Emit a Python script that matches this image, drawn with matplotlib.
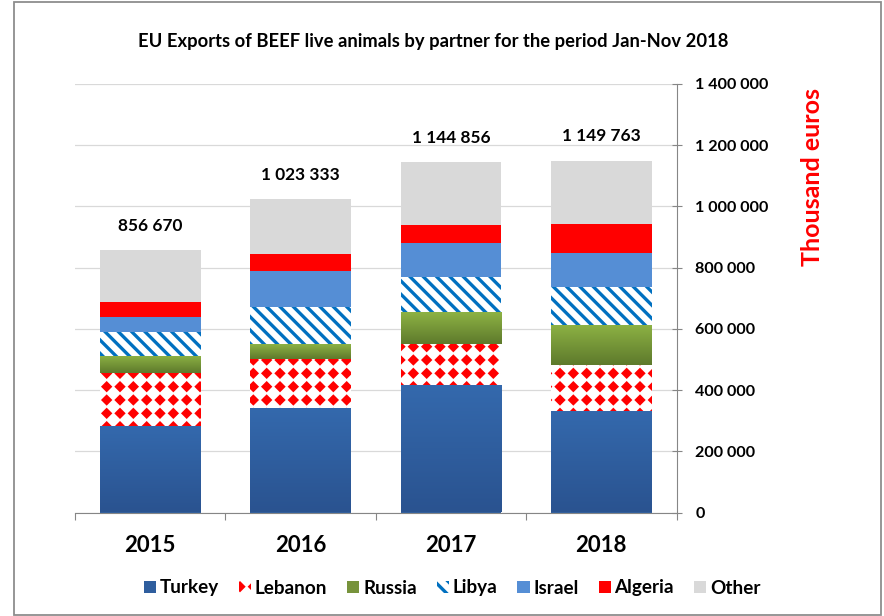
import warnings
warnings.filterwarnings('ignore')
import numpy as np
import matplotlib
matplotlib.use('Agg')
import matplotlib.pyplot as plt
import matplotlib.hatch as mhatch
from matplotlib.path import Path
from matplotlib.patches import Rectangle
from matplotlib.colors import LinearSegmentedColormap
from matplotlib.ticker import FuncFormatter, MultipleLocator

# ---------------- data (thousand euros) ----------------
years = ['2015', '2016', '2017', '2018']
turkey  = [283000, 341000, 417000, 333000]
lebanon = [172000, 160000, 135000, 149000]
russia  = [57000, 49000, 104000, 132000]
libya   = [79000, 123000, 112000, 124000]
israel  = [49000, 115000, 114000, 111000]
algeria = [49000, 58000, 58000, 94000]
other   = [168000, 177000, 205000, 207000]
totals  = [856670, 1023333, 1144856, 1149763]
title = 'EU Exports of BEEF live animals by partner for the period Jan-Nov 2018'
ylabel = 'Thousand euros'

# ---------------- custom diamond-grid hatch ----------------
class DiamondGrid(mhatch.HatchPatternBase):
    def __init__(self, hatch, density):
        self.n = hatch.count('D') * density
        self.num_vertices = 5 * (self.n + 1) ** 2 if self.n else 0

    def set_vertices_and_codes(self, vertices, codes):
        n = self.n
        r = 0.25 / n
        c = np.linspace(0, 1, n + 1)
        cx, cy = np.meshgrid(c, c)
        centers = np.stack([cx.ravel(), cy.ravel()], axis=1)
        shape = np.array([[0, -r], [r, 0], [0, r], [-r, 0], [0, -r]])
        v = (shape[None, :, :] + centers[:, None, :]).reshape(-1, 2)
        vertices[:] = v
        cd = np.array([Path.MOVETO, Path.LINETO, Path.LINETO, Path.LINETO,
                       Path.CLOSEPOLY], dtype=Path.code_type)
        codes[:] = np.tile(cd, len(centers))

mhatch._hatch_types.append(DiamondGrid)

DPI = 80
plt.rcParams['font.family'] = ['Lato', 'DejaVu Sans']
plt.rcParams['hatch.linewidth'] = 3.0

fig = plt.figure(figsize=(884 / DPI, 616 / DPI), dpi=DPI)
ax = fig.add_axes([75 / 884, 1 - 512.5 / 616, (676.5 - 75) / 884, (512.5 - 84) / 616])

x = np.arange(len(years))
width = 0.67
series = [
    ('Turkey', turkey, dict(color='#2F5E9E')),
    ('Lebanon', lebanon, dict(facecolor='white', edgecolor='#FF0000', hatch='D', linewidth=0)),
    ('Russia', russia, dict(color='#77933C')),
    ('Libya', libya, dict(facecolor='white', edgecolor='#0070C0', hatch='\\\\', linewidth=0)),
    ('Israel', israel, dict(color='#558ED5')),
    ('Algeria', algeria, dict(color='#FF0000')),
    ('Other', other, dict(color='#D9D9D9')),
]

gradients = {
    'Turkey': LinearSegmentedColormap.from_list('tk', ['#2A5390', '#3469AD']),
    'Russia': LinearSegmentedColormap.from_list('ru', ['#5E7A2C', '#8DB244']),
}

bottom = np.zeros(len(years))
containers = []
for name, vals, style in series:
    bc = ax.bar(x, vals, width, bottom=bottom, label=name, zorder=2, **style)
    containers.append(bc)
    if name in gradients:
        grad = np.linspace(0, 1, 64).reshape(-1, 1)
        for rect in bc:
            x0, y0 = rect.get_x(), rect.get_y()
            w, h = rect.get_width(), rect.get_height()
            im = ax.imshow(grad, extent=(x0, x0 + w, y0, y0 + h), origin='lower',
                           aspect='auto', cmap=gradients[name], zorder=2.1,
                           interpolation='bilinear')
            im.set_clip_path(rect)
    bottom = bottom + np.array(vals)

# total labels
for xi, tot in zip(x, totals):
    ax.annotate(f'{tot:,}'.replace(',', ' '), (xi, tot), xytext=(0, 22),
                textcoords='offset points', ha='center', va='center',
                fontsize=15.5, fontweight='bold', color='#000000')

ax.set_xlim(-0.5, len(years) - 0.5)
ax.set_ylim(0, 1400000)
ax.yaxis.set_major_locator(MultipleLocator(200000))
ax.yaxis.set_major_formatter(FuncFormatter(lambda v, p: f'{int(v):,}'.replace(',', ' ')))
ax.yaxis.tick_right()
ax.grid(axis='y', color='#D9D9D9', linewidth=1.1, zorder=0)
ax.set_axisbelow(True)

for s in ['top', 'left']:
    ax.spines[s].set_visible(False)
for s in ['right', 'bottom']:
    ax.spines[s].set_color('#868686')
    ax.spines[s].set_linewidth(1.0)

ax.set_xticks(x)
ax.set_xticklabels(years, fontsize=20, fontweight='bold')
ax.tick_params(axis='x', length=0, pad=20)
ax.set_xticks(np.arange(-0.5, len(years)), minor=True)
ax.tick_params(axis='x', which='minor', length=6, color='#868686', width=1.0)
ax.tick_params(axis='y', direction='inout', length=9, color='#868686', width=1.0,
               labelsize=14.5, pad=12.5)
for lab in ax.get_yticklabels():
    lab.set_fontweight('bold')

fig.text(812 / 884, 1 - 177 / 616, ylabel, rotation=90, ha='center', va='center',
         color='#FF0000', fontsize=22.5, fontweight='bold')
fig.text(433 / 884, 1 - 42 / 616, title, ha='center', va='center',
         fontsize=16.5, fontweight='bold', color='#000000')

leg = fig.legend(handles=containers, loc='center', bbox_to_anchor=(452 / 884, 1 - 588 / 616),
                 ncol=7, frameon=False, fontsize=17, handlelength=0.65, handleheight=0.65,
                 handletextpad=0.2, columnspacing=1.05, borderaxespad=0)
for t in leg.get_texts():
    t.set_fontweight('bold')

fig.patches.append(Rectangle((14 / 884, 1 / 616), (880.5 - 14) / 884, (614.5 - 1) / 616,
                             transform=fig.transFigure, fill=False,
                             edgecolor='#8C8C8C', linewidth=1.6))

fig.savefig('out.png', dpi=DPI)
